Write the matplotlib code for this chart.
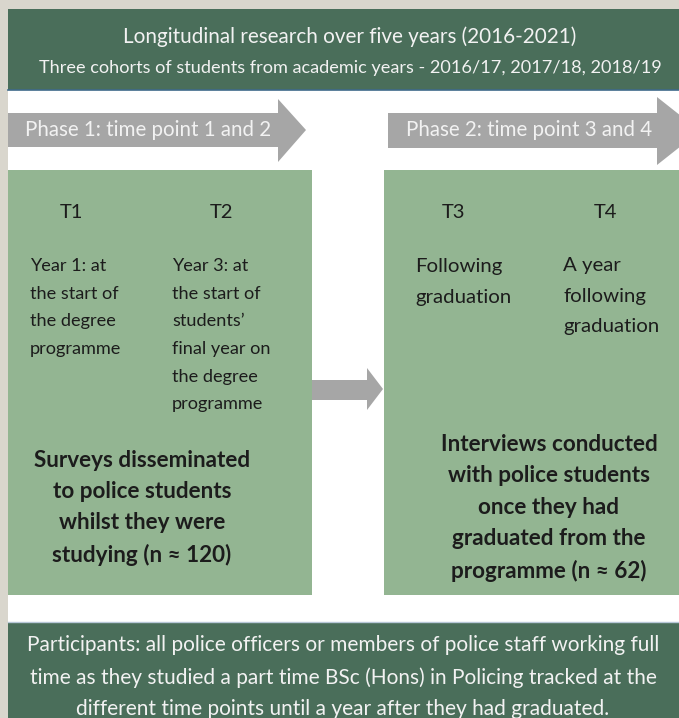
import matplotlib
matplotlib.use('Agg')
import matplotlib.pyplot as plt
from matplotlib.patches import Rectangle, Polygon

# texts of the diagram
title = 'Longitudinal research over five years (2016-2021)'
subtitle = 'Three cohorts of students from academic years - 2016/17, 2017/18, 2018/19'
phases = ['Phase 1: time point 1 and 2', 'Phase 2: time point 3 and 4']
time_points = ['T1', 'T2', 'T3', 'T4']
tp_desc = ['Year 1: at\nthe start of\nthe degree\nprogramme',
           'Year 3: at\nthe start of\nstudents\u2019\nfinal year on\nthe degree\nprogramme',
           'Following\ngraduation',
           'A year\nfollowing\ngraduation']
methods = ['Surveys disseminated\nto police students\nwhilst they were\nstudying (n \u2248 120)',
           'Interviews conducted\nwith police students\nonce they had\ngraduated from the\nprogramme (n \u2248 62)']
footer = ('Participants: all police officers or members of police staff working full\n'
          'time as they studied a part time BSc (Hons) in Policing tracked at the\n'
          'different time points until a year after they had graduated.')

dark = '#4a6e5a'
light = '#93b592'
grey = '#a6a6a6'
bg = '#d9d6cd'
ink = '#1c1c1c'
fam = ['Lato', 'DejaVu Sans']

W, H = 679, 718
fig = plt.figure(figsize=(W / 100, H / 100), dpi=100)
fig.patch.set_facecolor(bg)
ax = fig.add_axes([0, 0, 1, 1])
ax.set_xlim(0, W)
ax.set_ylim(H, 0)
ax.axis('off')

def box(x0, y0, x1, y1, c):
    ax.add_patch(Rectangle((x0, y0), x1 - x0, y1 - y0, color=c, lw=0))

def arrow(x0, x1, hx, by0, by1, hy0, hy1, ty):
    ax.add_patch(Polygon([(x0, by0), (hx, by0), (hx, hy0), (x1, ty), (hx, hy1),
                          (hx, by1), (x0, by1)], closed=True, color=grey, lw=0))

box(8, 9, W, H, 'white')
box(8, 9, W, 90, dark)
ax.plot([8, W], [90, 90], color='#3f6a8a', lw=1.2)
box(8, 622, W, H, dark)
ax.plot([8, W], [622, 622], color='#b8c8d8', lw=1)

ax.text(350, 37, title, ha='center', va='center', color='#f2f2f2', fontsize=14.9, family=fam)
ax.text(350, 68, subtitle, ha='center', va='center', color='#f2f2f2', fontsize=13.1, family=fam)

# phase arrows
arrow(8, 306, 278, 113, 147, 99, 162, 130)
arrow(388, 700, 657, 113, 148, 97, 165, 131)
ax.text(25, 130, phases[0], ha='left', va='center', color='#f2f2f2', fontsize=14.8, family=fam)
ax.text(406, 130, phases[1], ha='left', va='center', color='#f2f2f2', fontsize=14.8, family=fam)

# green boxes
box(8, 170, 312, 595, light)
box(384, 170, W, 595, light)
arrow(312, 383, 367, 380, 400, 368, 410, 389)

tx = [71, 222, 453, 606]
for i, t in enumerate(time_points):
    ax.text(tx[i], 213, t, ha='center', va='center', color=ink, fontsize=14.5, family=fam)

dx = [30, 172, 415, 563]
dy = [258, 258, 258, 257]
dsize = [13.1, 13.1, 14.7, 14.7]
dspace = [1.9, 1.9, 1.98, 1.98]
for i, d in enumerate(tp_desc):
    ax.text(dx[i], dy[i], d, ha='left', va='top', color=ink, fontsize=dsize[i],
            linespacing=dspace[i], family=fam)

ax.text(142, 508, methods[0], ha='center', va='center', color=ink, fontsize=16.2,
        fontweight='bold', linespacing=1.58, family=fam)
ax.text(549, 508, methods[1], ha='center', va='center', color=ink, fontsize=16.2,
        fontweight='bold', linespacing=1.6, family=fam)

ax.text(343, 677, footer, ha='center', va='center', color='#f2f2f2', fontsize=15,
        linespacing=1.71, family=fam)

fig.savefig('out.png', dpi=100, facecolor=bg)
